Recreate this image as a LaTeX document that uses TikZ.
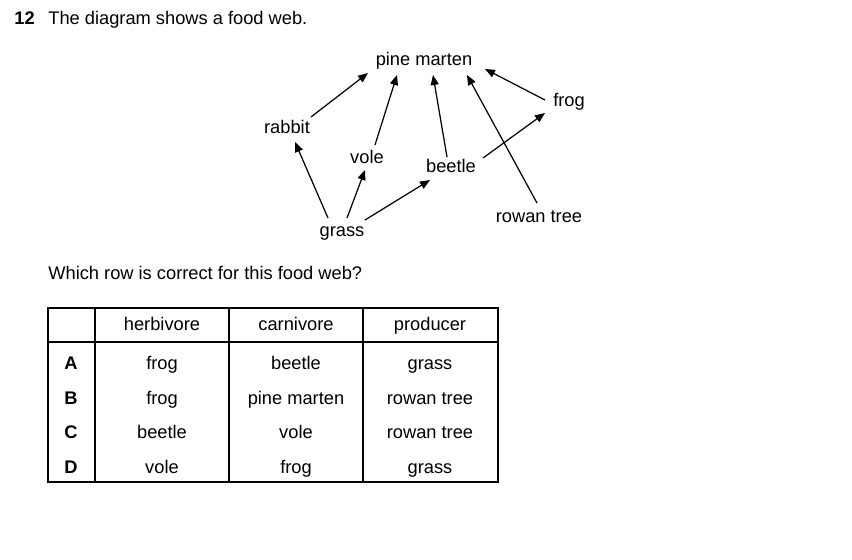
\documentclass[tikz,border=0pt]{standalone}
\usepackage{fontspec}
\setmainfont{Liberation Sans}
\usetikzlibrary{arrows.meta}

\begin{document}
\begin{tikzpicture}[x=0.02cm,y=-0.02cm]
    \tikzset{
    txt/.style={inner sep=0pt, text height=7.5pt, text depth=2.2pt, font=\fontsize{10.4}{12}\selectfont},
    feed/.style={-{Triangle[length=0.2cm,width=0.16cm]}, line width=0.7pt},
    grid/.style={line width=0.6pt}
    }
        \useasboundingbox (0,0) rectangle (852,560);

        % question
        \node (num)[txt, anchor=base west] at (14,25) {\textbf{12}};
        \node (title)[txt, anchor=base west] at (48,25) {The diagram shows a food web.};

        % food web
        \node (pm)[txt] at (424,61) {pine marten};
        \node (frog)[txt] at (569,102) {frog};
        \node (rabbit)[txt] at (287,129) {rabbit};
        \node (vole)[txt] at (367,159) {vole};
        \node (beetle)[txt] at (451,168) {beetle};
        \node (rowan)[txt] at (539,218) {rowan tree};
        \node (grass)[txt] at (342,232) {grass};

        \draw[feed] ([shift={(24,-12)}]rabbit.center) -- ([shift={(-56,12)}]pm.center);
        \draw[feed] ([shift={(8,-14)}]vole.center) -- ([shift={(-27,14)}]pm.center);
        \draw[feed] ([shift={(-4,-11)}]beetle.center) -- ([shift={(9,14)}]pm.center);
        \draw[feed] ([shift={(-2,-15)}]rowan.center) -- ([shift={(43,14)}]pm.center);
        \draw[feed] ([shift={(-24,-2)}]frog.center) -- ([shift={(61,8)}]pm.center);
        \draw[feed] ([shift={(32,-10)}]beetle.center) -- ([shift={(-24,11)}]frog.center);
        \draw[feed] ([shift={(-14,-14)}]grass.center) -- ([shift={(8,13)}]rabbit.center);
        \draw[feed] ([shift={(5,-14)}]grass.center) -- ([shift={(-2,11)}]vole.center);
        \draw[feed] ([shift={(23,-12)}]grass.center) -- ([shift={(-21,12)}]beetle.center);

        \node (ask)[txt, anchor=base west] at (48,280) {Which row is correct for this food web?};

        % table
        \draw[grid] (48,308) rectangle (498,482);
        \draw[grid] (48,342) -- (498,342);
        \foreach \x in {95,229,363}
            \draw[grid] (\x,308) -- (\x,482);
        \node (herb)[txt] at (162,326) {herbivore};
        \node (carn)[txt] at (296,326) {carnivore};
        \node (prod)[txt] at (430,326) {producer};
        \foreach \l/\h/\c/\p [count=\i] in {A/frog/beetle/grass, B/frog/pine marten/rowan tree, C/beetle/vole/rowan tree, D/vole/frog/grass}{
            \node (row\l)[txt] at (71,330.5+34.5*\i) {\textbf{\l}};
            \node[txt] at (162,330.5+34.5*\i) {\h};
            \node[txt] at (296,330.5+34.5*\i) {\c};
            \node[txt] at (430,330.5+34.5*\i) {\p};
        }
    \end{tikzpicture}
\end{document}
